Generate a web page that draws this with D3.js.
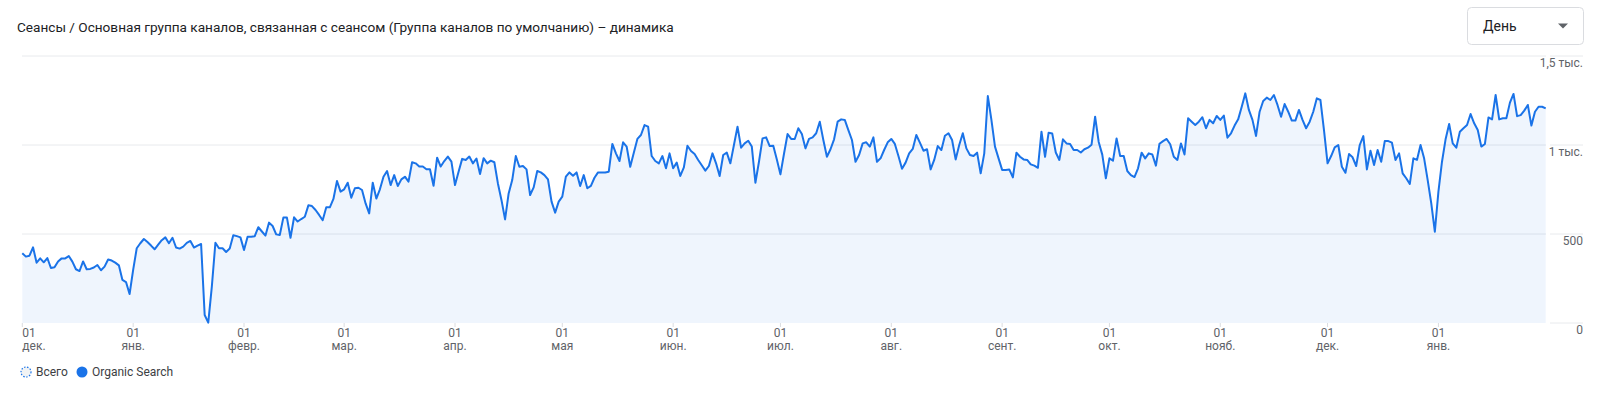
<!DOCTYPE html>
<html>
<head>
<meta charset="utf-8">
<script src="https://cdn.jsdelivr.net/npm/d3@7"></script>
<style>
  body { margin: 0; background: #fff; font-family: Roboto, "Noto Sans", sans-serif; }
  svg { display: block; }
</style>
</head>
<body>
<svg id="chart" width="1600" height="399"></svg>
<script>
// data
const startDate = "2022-12-01";
const endDate = "2024-01-31";
const sessions = [
  392,373,378,425,339,363,341,365,309,313,346,363,363,376,345,302,292,346,302,304,
  312,326,296,317,357,351,339,324,242,230,163,298,420,448,472,455,435,414,440,465,
  481,448,479,424,418,429,450,461,424,435,444,45,2,204,451,420,420,399,418,493,
  488,481,410,485,485,488,538,514,491,564,545,498,494,592,592,479,594,570,584,597,
  661,657,635,607,577,650,650,697,798,738,751,788,704,757,760,747,672,616,788,699,
  751,822,854,775,831,770,807,822,794,903,897,879,879,864,864,771,929,879,910,935,
  907,775,850,922,916,935,897,924,837,926,897,912,903,784,690,582,728,803,938,878,
  882,863,719,762,854,846,831,807,682,620,682,710,822,846,827,846,770,831,757,770,
  816,846,846,846,850,1006,953,910,1015,991,878,957,1034,1056,1112,1103,938,910,897,938,
  869,953,869,901,826,874,996,966,949,916,886,856,882,953,897,826,944,957,897,1000,
  1103,985,1009,1024,991,788,906,1037,1043,994,996,919,835,951,1062,1034,1034,1094,1062,981,
  1034,1043,1066,1131,1028,934,976,1032,1131,1144,1141,1084,1028,906,944,1009,1015,991,1043,906,
  925,972,1015,1034,1006,938,867,901,953,978,1056,1013,968,976,863,916,994,972,1052,1066,
  1028,919,1000,1066,981,944,938,957,841,953,1275,1141,991,925,860,860,863,818,957,934,
  919,916,891,884,872,1075,934,1069,1065,958,916,1032,1009,1006,972,972,958,976,985,1002,
  1159,1017,946,813,925,912,1037,938,938,854,831,820,869,957,925,953,947,884,1007,1022,
  1034,1004,934,916,1009,947,1150,1131,1112,1131,1156,1094,1141,1122,1163,1141,1165,1041,1066,1109,
  1144,1215,1290,1197,1141,1051,1187,1247,1266,1253,1281,1225,1159,1230,1187,1137,1137,1197,1141,1094,
  1131,1187,1262,1253,1084,897,938,987,1000,878,844,949,931,882,1000,1050,863,968,888,972,
  906,1022,1022,1013,916,953,841,813,781,925,916,1000,925,803,672,513,738,906,1032,1118,
  1009,985,1075,1094,1112,1174,1122,1084,991,1006,1155,1144,1281,1144,1150,1150,1238,1287,1162,1168,
  1193,1225,1109,1187,1215,1215,1206
];
const monthLabels = ["дек.", "янв.", "февр.", "мар.", "апр.", "мая", "июн.", "июл.", "авг.", "сент.", "окт.", "нояб.", "дек.", "янв."];
const yTicks = [0, 500, 1000, 1500];
const yTickLabels = ["0", "500", "1 тыс.", "1,5 тыс."];
const title = "Сеансы / Основная группа каналов, связанная с сеансом (Группа каналов по умолчанию) – динамика";
const legendItems = ["Всего", "Organic Search"];

const parse = d3.timeParse("%Y-%m-%d");
const start = parse(startDate);
const data = sessions.map((v, i) => ({ date: d3.timeDay.offset(start, i), value: v }));

const svg = d3.select("#chart");
const blue = "#1a73e8";

const x = d3.scaleTime()
  .domain([start, parse(endDate)])
  .range([22.3, 1545.7]);

const y = d3.scaleLinear()
  .domain([0, 1500])
  .range([323, 56]);

// title
svg.append("text")
  .attr("x", 17).attr("y", 31.5)
  .attr("font-size", 13.6)
  .attr("fill", "#202124")
  .text(title);

// dropdown
const dd = svg.append("g");
dd.append("rect")
  .attr("x", 1467.5).attr("y", 7.5)
  .attr("width", 116).attr("height", 37)
  .attr("rx", 4)
  .attr("fill", "#fff")
  .attr("stroke", "#dadce0");
dd.append("text")
  .attr("x", 1483).attr("y", 31)
  .attr("font-size", 14)
  .attr("fill", "#202124")
  .text("День");
dd.append("path")
  .attr("d", "M1558,23.5 L1568,23.5 L1563,28.5 Z")
  .attr("fill", "#5f6368");

// gridlines
const grid = svg.append("g");
grid.selectAll("line.g1")
  .data(yTicks.slice(1))
  .enter().append("line")
  .attr("x1", 22).attr("x2", 1546)
  .attr("y1", d => y(d)).attr("y2", d => y(d))
  .attr("stroke", "#e8eaed");
grid.selectAll("line.g2")
  .data(yTicks)
  .enter().append("line")
  .attr("x1", 1550).attr("x2", 1583)
  .attr("y1", d => y(d)).attr("y2", d => y(d))
  .attr("stroke", "#e8eaed");

// area + line
svg.append("path")
  .datum(data)
  .attr("fill", blue)
  .attr("fill-opacity", 0.07)
  .attr("d", d3.area().x(d => x(d.date)).y0(y(0)).y1(d => y(d.value)));

svg.append("path")
  .datum(data)
  .attr("fill", "none")
  .attr("stroke", blue)
  .attr("stroke-width", 2)
  .attr("stroke-linejoin", "round")
  .attr("d", d3.line().x(d => x(d.date)).y(d => y(d.value)));

// y labels
svg.append("g").selectAll("text")
  .data(yTicks)
  .enter().append("text")
  .attr("x", 1583)
  .attr("y", d => y(d) + 11)
  .attr("text-anchor", "end")
  .attr("font-size", 12)
  .attr("fill", "#5f6368")
  .text((d, i) => yTickLabels[i]);

// x axis
const months = d3.timeMonth.range(start, parse(endDate));
const xt = svg.append("g").selectAll("g")
  .data(months)
  .enter().append("g")
  .attr("transform", d => "translate(" + x(d) + ",0)");
xt.append("line")
  .attr("y1", 323).attr("y2", 327)
  .attr("stroke", "#dadce0");
xt.append("text")
  .attr("y", 337)
  .attr("text-anchor", (d, i) => i === 0 ? "start" : "middle")
  .attr("font-size", 12)
  .attr("fill", "#5f6368")
  .text("01");
xt.append("text")
  .attr("y", 350)
  .attr("text-anchor", (d, i) => i === 0 ? "start" : "middle")
  .attr("font-size", 12)
  .attr("fill", "#5f6368")
  .text((d, i) => monthLabels[i]);

// legend
const lg = svg.append("g");
lg.append("circle")
  .attr("cx", 26).attr("cy", 372).attr("r", 5)
  .attr("fill", "#f1f3f4")
  .attr("stroke", blue)
  .attr("stroke-width", 1.2)
  .attr("stroke-dasharray", "1.5,1.5");
lg.append("text")
  .attr("x", 36).attr("y", 376)
  .attr("font-size", 12).attr("fill", "#3c4043")
  .text(legendItems[0]);
lg.append("circle")
  .attr("cx", 82).attr("cy", 372).attr("r", 5.5)
  .attr("fill", blue);
lg.append("text")
  .attr("x", 92).attr("y", 376)
  .attr("font-size", 12).attr("fill", "#3c4043")
  .text(legendItems[1]);
</script>
</body>
</html>
